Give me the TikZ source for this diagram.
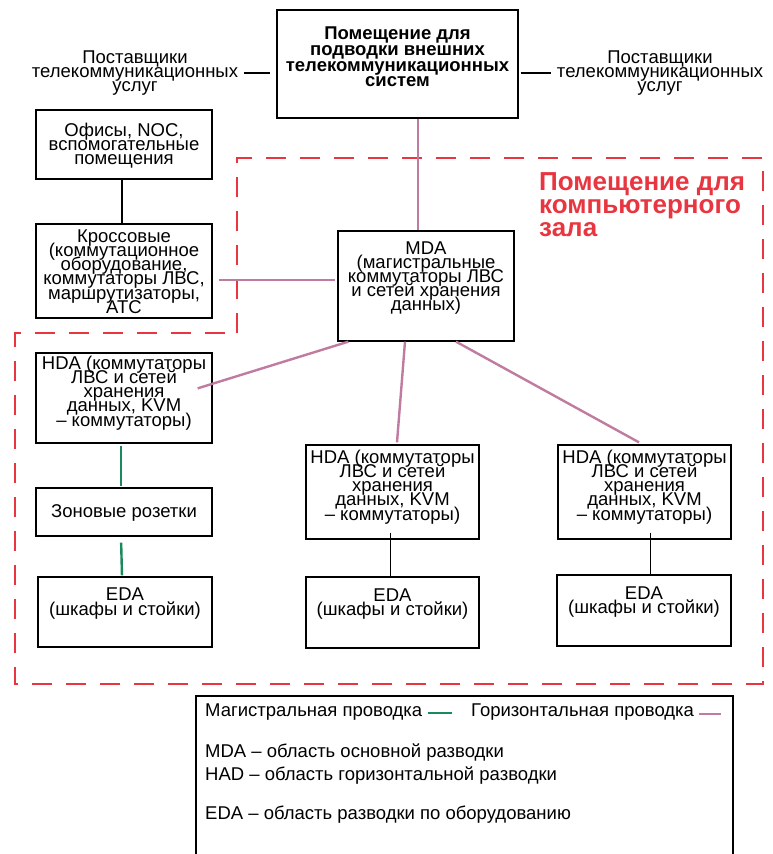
\documentclass[tikz,border=0pt]{standalone}
\usepackage{fontspec}
\setmainfont{Liberation Sans}
\usetikzlibrary{calc}
\definecolor{pinkc}{HTML}{C07BA0}
\definecolor{greenc}{HTML}{1A8A5A}
\definecolor{redc}{HTML}{E8353F}
\newcommand{\tightls}{\lineskiplimit-50pt\lineskip0pt\relax}
\begin{document}
\begin{tikzpicture}[x=1pt,y=-1pt,
  box/.style={draw, line width=1.3pt, inner sep=0pt},
  txt/.style={align=center, inner sep=0pt, font={\fontsize{18.5}{14.2}\selectfont\tightls}},
  boldtxt/.style={align=center, inner sep=0pt, font={\fontsize{18.5}{15.7}\selectfont\bfseries\tightls}},
  redtitle/.style={align=left, inner sep=0pt, text=redc, font={\fontsize{26}{23}\selectfont\bfseries\tightls}},
  legtxt/.style={anchor=west, inner sep=0pt, font={\fontsize{18.5}{18}\selectfont}},
  pinkline/.style={draw=pinkc, line width=2.4pt},
  greenline/.style={draw=greenc, line width=2.4pt},
  blackline/.style={draw=black, line width=2.4pt},
  thinline/.style={draw=black, line width=1pt},
  reddash/.style={draw=redc, line width=2.4pt, dash pattern=on 20pt off 14pt}
]
\useasboundingbox (0,0) rectangle (772,854);

% red dashed computer room outline
\draw[reddash] (237,333) -- (237,158) -- (763,158) -- (763,684) -- (15,684) -- (15,333) -- cycle;
\node[redtitle, anchor=west] (roomT) at (539,205) {Помещение для\\компьютерного\\зала};

% top box
\node[box, minimum width=241pt, minimum height=108pt] (top) at (397.5,64) {};
\node[boldtxt] (topT) at (397.5,57) {Помещение для\\подводки внешних\\телекоммуникационных\\систем};

% providers
\node[txt] (provL) at (135,73) {Поставщики\\телекоммуникационных\\услуг};
\node[txt] (provR) at (660,73) {Поставщики\\телекоммуникационных\\услуг};
\draw[blackline, shorten <=6pt, shorten >=6pt] (provL.east) -- (provL.east -| top.west);
\draw[blackline, shorten <=2pt, shorten >=6pt] (top.east |- provR.west) -- (provR.west);

% offices
\node[box, minimum width=176pt, minimum height=69pt] (off) at (124,144.5) {};
\node[txt] (offT) at (124,145.5) {Офисы, NOC,\\вспомогательные\\помещения};

% cross-connect
\node[box, minimum width=176pt, minimum height=94pt] (kross) at (124,271) {};
\node[txt] (krossT) at (124,271.5) {Кроссовые\\(коммутационное\\оборудование,\\коммутаторы ЛВС,\\маршрутизаторы,\\АТС};
\draw[blackline, line width=2pt] ([xshift=-2pt]off.south) -- ([xshift=-2pt]kross.north);

% MDA
\node[box, minimum width=176pt, minimum height=110pt] (mda) at (426,286) {};
\node[txt] (mdaT) at (426,278) {MDA\\(магистральные\\коммутаторы ЛВС\\и сетей хранения\\данных)};

% HDA boxes
\node[box, minimum width=176pt, minimum height=90pt] (hda1) at (124,398) {};
\node[txt] (hda1T) at (124,393) {HDA (коммутаторы\\ЛВС и сетей\\хранения\\данных, KVM\\– коммутаторы)};
\node[box, minimum width=173pt, minimum height=94pt] (hda2) at (392.5,492) {};
\node[txt] (hda2T) at (392.5,487) {HDA (коммутаторы\\ЛВС и сетей\\хранения\\данных, KVM\\– коммутаторы)};
\node[box, minimum width=173pt, minimum height=94pt] (hda3) at (644.5,492) {};
\node[txt] (hda3T) at (644.5,487) {HDA (коммутаторы\\ЛВС и сетей\\хранения\\данных, KVM\\– коммутаторы)};

% zone outlets
\node[box, minimum width=176pt, minimum height=48pt] (zone) at (124,512) {};
\node[txt] (zoneT) at (124,513) {Зоновые розетки};

% EDA boxes
\node[box, minimum width=174pt, minimum height=70pt] (eda1) at (125,612) {};
\node[txt] (eda1T) at (125,603.5) {EDA\\(шкафы и стойки)};
\node[box, minimum width=173pt, minimum height=71pt] (eda2) at (392.5,612.5) {};
\node[txt] (eda2T) at (392.5,604) {EDA\\(шкафы и стойки)};
\node[box, minimum width=174pt, minimum height=71pt] (eda3) at (644,610.5) {};
\node[txt] (eda3T) at (644,602) {EDA\\(шкафы и стойки)};

% pink horizontal cabling
\draw[pinkline] ([xshift=20.5pt]top.south) -- ([xshift=20.5pt]top.south |- mda.north);
\draw[pinkline, shorten <=6pt, shorten >=2pt] ([yshift=-9pt]kross.east) -- ([yshift=-9pt]kross.east -| mda.west);
\draw[pinkline] ([xshift=11pt]mda.south west) -- ([xshift=-15pt,yshift=-36pt]hda1.north east);
\draw[pinkline] ([xshift=-21pt]mda.south) -- ([xshift=4.5pt,yshift=2pt]hda2.north);
\draw[pinkline] ([xshift=30pt]mda.south) -- ([xshift=-5.5pt,yshift=2pt]hda3.north);

% green backbone
\draw[greenline, shorten <=2pt, shorten >=1pt] ([xshift=-3pt]hda1.south) -- ([xshift=-3pt]zone.north);
\draw[greenline, shorten <=6pt, shorten >=1pt] ([xshift=-3pt]zone.south) -- ([xshift=-3pt]eda1.north);

% thin HDA-EDA
\draw[thinline] ([xshift=-2.5pt,yshift=7pt]hda2.south) -- ([xshift=-2.5pt]eda2.north);
\draw[thinline] ([xshift=5.5pt,yshift=7pt]hda3.south) -- ([xshift=6pt]eda3.north);

% legend
\node[box, minimum width=537pt, minimum height=204pt] (legend) at (464.5,798) {};
\node[legtxt] (lg1) at (205,712) {Магистральная проводка};
\node[legtxt] (lg2) at (471,712) {Горизонтальная проводка};
\draw[greenline] ([xshift=6pt,yshift=-1pt]lg1.east) -- ([xshift=-19pt,yshift=-1pt]lg2.west);
\draw[pinkline] ([xshift=5pt,yshift=-2pt]lg2.east) -- ([xshift=27pt,yshift=-2pt]lg2.east);
\node[legtxt] (lg3) at (205,753) {MDA – область основной разводки};
\node[legtxt] (lg4) at (205,776) {HAD – область горизонтальной разводки};
\node[legtxt] (lg5) at (205,815) {EDA – область разводки по оборудованию};
\end{tikzpicture}
\end{document}
